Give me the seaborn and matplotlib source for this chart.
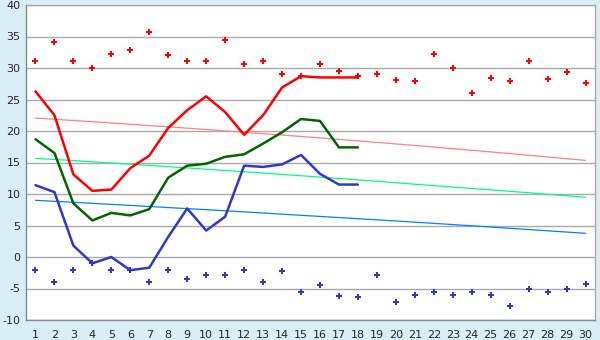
import numpy as np
import pandas as pd
import matplotlib
matplotlib.use("Agg")
import matplotlib.pyplot as plt
import seaborn as sns

days = list(range(1, 31))
obs_days = list(range(1, 19))

# observed daily values (days 1-18)
tmax = [26.3, 22.5, 13.1, 10.5, 10.7, 14.1, 16.1, 20.5, 23.3, 25.5, 23.0, 19.4,
        22.5, 26.9, 28.7, 28.5, 28.5, 28.5]
tmean = [18.7, 16.5, 8.5, 5.8, 7.0, 6.6, 7.6, 12.6, 14.5, 14.8, 15.9, 16.3,
         18.0, 19.8, 21.9, 21.6, 17.4, 17.4]
tmin = [11.4, 10.3, 1.8, -1.0, 0.0, -2.1, -1.7, 3.2, 7.7, 4.2, 6.4, 14.5,
        14.3, 14.7, 16.2, 13.2, 11.5, 11.5]

# record values (all 30 days)
rec_max = [31.1, 34.1, 31.1, 30.0, 32.2, 32.8, 35.7, 32.0, 31.1, 31.1,
           34.4, 30.6, 31.1, 29.0, 28.7, 30.6, 29.5, 28.7, 29.0, 28.1,
           27.9, 32.2, 30.0, 26.1, 28.4, 27.9, 31.1, 28.2, 29.3, 27.6]
rec_min = [-2.1, -3.9, -2.0, -1.0, -2.1, -2.1, -3.9, -2.1, -3.5, -2.9,
           -2.8, -2.1, -3.9, -2.3, -5.6, -4.5, -6.2, -6.4, -2.8, -7.2,
           -6.1, -5.6, -6.1, -5.6, -6.1, -7.8, -5.0, -5.6, -5.0, -4.3]

# normal values (all 30 days)
norm_max = [22.05, 21.86, 21.67, 21.47, 21.27, 21.07, 20.87, 20.66, 20.45, 20.24,
            20.02, 19.80, 19.58, 19.36, 19.13, 18.90, 18.67, 18.43, 18.19, 17.95,
            17.70, 17.45, 17.20, 16.94, 16.68, 16.42, 16.15, 15.88, 15.61, 15.34]
norm_mean = [15.66, 15.48, 15.30, 15.11, 14.92, 14.73, 14.54, 14.34, 14.14, 13.94,
             13.74, 13.53, 13.32, 13.11, 12.90, 12.68, 12.46, 12.24, 12.02, 11.79,
             11.56, 11.33, 11.10, 10.88, 10.66, 10.43, 10.20, 9.96, 9.72, 9.48]
norm_min = [9.00, 8.84, 8.68, 8.52, 8.35, 8.19, 8.02, 7.85, 7.68, 7.51,
            7.34, 7.16, 6.98, 6.80, 6.62, 6.44, 6.26, 6.08, 5.90, 5.72,
            5.53, 5.34, 5.15, 4.96, 4.76, 4.56, 4.36, 4.16, 3.96, 3.76]

yticks = [-10, -5, 0, 5, 10, 15, 20, 25, 30, 35, 40]

obs = pd.DataFrame({"day": obs_days, "tmax": tmax, "tmean": tmean, "tmin": tmin})
full = pd.DataFrame({"day": days, "rec_max": rec_max, "rec_min": rec_min,
                     "norm_max": norm_max, "norm_mean": norm_mean, "norm_min": norm_min})

sns.set_style("white")
plt.rcParams["font.family"] = ["DejaVu Sans"]

bg = "#DAEEF5"
fig = plt.figure(figsize=(6, 3.4), dpi=100, facecolor=bg)
ax = fig.add_axes([26 / 600, 20 / 340, 569 / 600, 315 / 340])
ax.set_facecolor("white")

# normals
sns.lineplot(data=full, x="day", y="norm_max", ax=ax, color="#FF8080", linewidth=0.9)
sns.lineplot(data=full, x="day", y="norm_mean", ax=ax, color="#00FF80", linewidth=0.9)
sns.lineplot(data=full, x="day", y="norm_min", ax=ax, color="#0080FF", linewidth=0.9)

# observed
sns.lineplot(data=obs, x="day", y="tmax", ax=ax, color="#FF0000", linewidth=1.8)
sns.lineplot(data=obs, x="day", y="tmean", ax=ax, color="#006600", linewidth=1.8)
sns.lineplot(data=obs, x="day", y="tmin", ax=ax, color="#3535C8", linewidth=1.8)

# records
sns.scatterplot(data=full, x="day", y="rec_max", ax=ax, color="#FF0000", marker="P",
                s=22, linewidth=0)
sns.scatterplot(data=full, x="day", y="rec_min", ax=ax, color="#3535C8", marker="P",
                s=22, linewidth=0)

ax.set_xlim(0.5, 30.5)
ax.set_ylim(-10, 40)
ax.set_xticks(days)
ax.set_xticklabels([str(d) for d in days])
ax.set_yticks(yticks)
ax.set_yticklabels([str(t) for t in yticks])
ax.set_xlabel("")
ax.set_ylabel("")
ax.yaxis.grid(True, color="#AAAAAA", linewidth=1.0)
ax.set_axisbelow(True)
for sp in ax.spines.values():
    sp.set_color("#AAAAAA")
    sp.set_linewidth(1.0)
ax.spines["left"].set_color("#888888")
ax.spines["bottom"].set_color("#888888")
ax.tick_params(axis="x", length=5, width=1, color="#555555", labelsize=8, pad=2)
ax.tick_params(axis="y", length=3, width=1, color="#555555", labelsize=8, pad=1)

fig.savefig("out.png", dpi=100, facecolor=bg)
